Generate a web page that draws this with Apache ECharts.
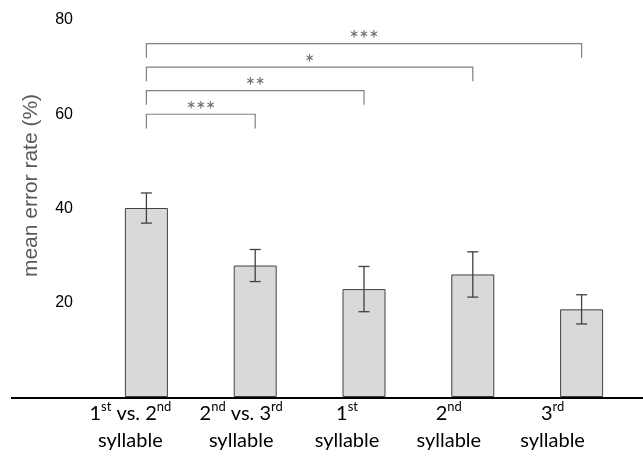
<!DOCTYPE html>
<html>
<head>
<meta charset="utf-8">
<script src="https://cdn.jsdelivr.net/npm/echarts@6/dist/echarts.min.js"></script>
<style>
* { margin: 0; padding: 0; }
html, body { background: #fff; }
#main { width: 643px; height: 465px; }
</style>
</head>
<body>
<div id="main"></div>
<script>
// categories and values
var categories = ['1st vs. 2nd syllable', '2nd vs. 3rd syllable', '1st syllable', '2nd syllable', '3rd syllable'];
var xLabels = [
  '{n|1}{s|st}{n| vs. 2}{s|nd}\n{n|syllable}',
  '{n|2}{s|nd}{n| vs. 3}{s|rd}\n{n|syllable}',
  '{n|1}{s|st}\n{n|syllable}',
  '{n|2}{s|nd}\n{n|syllable}',
  '{n|3}{s|rd}\n{n|syllable}'
];
// the original labels sit a little left of their bars
var labelShift = [16, 14, 17, 24, 29];
var means = [40.1, 27.9, 22.9, 26.0, 18.6];
var errors = [3.2, 3.4, 4.8, 4.8, 3.1];
var yTicks = [20, 40, 60, 80];

// significance brackets: [from, to, height, stars]
var bracketFrom = [0, 0, 0, 0];
var bracketTo = [1, 2, 3, 4];
var bracketY = [60, 65, 70, 75];
var bracketStars = ['***', '**', '*', '***'];
var legDrop = 3;

var errData = means.map(function (m, i) {
  return [i, m - errors[i], m + errors[i]];
});
var bracketData = bracketFrom.map(function (f, i) {
  return [f, bracketTo[i], bracketY[i], bracketStars[i]];
});
var xData = categories.map(function (c, i) {
  return { value: c, textStyle: { padding: [0, labelShift[i] * 2, 0, 0] } };
});

var chart = echarts.init(document.getElementById('main'));

chart.setOption({
  animation: false,
  grid: { left: 92, right: 7, top: 20, bottom: 68 },
  xAxis: {
    type: 'category',
    data: xData,
    axisLine: { show: false },
    axisTick: { show: false },
    axisLabel: {
      margin: 3,
      interval: 0,
      formatter: function (v, i) { return xLabels[i]; },
      rich: {
        n: { fontFamily: 'Lato', fontSize: 20, lineHeight: 27, color: '#000' },
        s: { fontFamily: 'Lato', fontSize: 13, lineHeight: 16, verticalAlign: 'top', color: '#000' }
      }
    }
  },
  yAxis: {
    type: 'value',
    min: 0,
    max: 80,
    interval: 20,
    name: 'mean error rate (%)',
    nameLocation: 'middle',
    nameGap: 50,
    nameTextStyle: { fontFamily: 'Liberation Sans', fontSize: 21, color: '#595959', padding: [0, 0, 0, 46] },
    axisLine: { show: false },
    axisTick: { show: false },
    splitLine: { show: false },
    axisLabel: {
      margin: 19,
      fontFamily: 'Liberation Sans',
      fontSize: 16,
      color: '#000',
      formatter: function (v) { return yTicks.indexOf(v) >= 0 ? String(v) : ''; }
    }
  },
  series: [
    {
      type: 'bar',
      data: means,
      barWidth: 43,
      itemStyle: { color: '#d9d9d9', borderColor: '#404040', borderWidth: 1 }
    },
    {
      type: 'custom',
      data: errData,
      z: 5,
      renderItem: function (params, api) {
        var lo = api.coord([api.value(0), api.value(1)]);
        var hi = api.coord([api.value(0), api.value(2)]);
        var w = 5.5;
        var st = { stroke: '#404040', lineWidth: 1.3 };
        return {
          type: 'group',
          children: [
            { type: 'line', shape: { x1: hi[0], y1: hi[1], x2: lo[0], y2: lo[1] }, style: st },
            { type: 'line', shape: { x1: hi[0] - w, y1: hi[1], x2: hi[0] + w, y2: hi[1] }, style: st },
            { type: 'line', shape: { x1: lo[0] - w, y1: lo[1], x2: lo[0] + w, y2: lo[1] }, style: st }
          ]
        };
      }
    },
    {
      type: 'custom',
      data: bracketData,
      z: 5,
      renderItem: function (params, api) {
        var y = api.value(2);
        var a = api.coord([api.value(0), y]);
        var b = api.coord([api.value(1), y]);
        var a2 = api.coord([api.value(0), y - legDrop]);
        var b2 = api.coord([api.value(1), y - legDrop]);
        return {
          type: 'group',
          children: [
            {
              type: 'polyline',
              shape: { points: [[a2[0], a2[1]], [a[0], a[1]], [b[0], b[1]], [b2[0], b2[1]]] },
              style: { stroke: '#808080', lineWidth: 1.2, fill: null }
            },
            {
              type: 'text',
              x: (a[0] + b[0]) / 2,
              y: a[1] - 4,
              style: {
                text: bracketData[params.dataIndex][3],
                fontFamily: 'Lato',
                fontSize: 23,
                fill: '#6a6a6a',
                align: 'center',
                verticalAlign: 'middle'
              }
            }
          ]
        };
      }
    }
  ]
});

// baseline: runs wider than the category band, as in the original
var y0 = chart.convertToPixel({ yAxisIndex: 0 }, 0);
chart.setOption({
  graphic: [{
    type: 'line',
    shape: { x1: 11, y1: y0 + 1, x2: 643, y2: y0 + 1 },
    style: { stroke: '#000', lineWidth: 2 },
    z: 10
  }]
});
</script>
</body>
</html>
